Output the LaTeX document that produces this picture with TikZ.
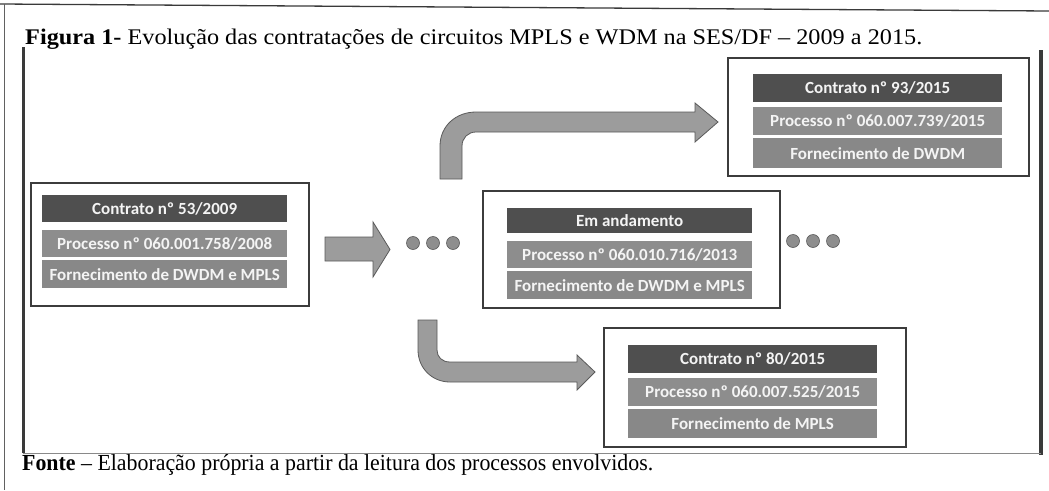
\documentclass[tikz,border=0pt]{standalone}
\usepackage{fontspec}
\usepackage{graphicx}
\setmainfont{Liberation Serif}
\newfontfamily\bandfont{Carlito}
\definecolor{darkband}{HTML}{4F4F4F}
\definecolor{midband}{HTML}{8D8D8D}
\definecolor{lowband}{HTML}{888888}
\definecolor{boxline}{HTML}{3C3C3C}
\definecolor{arrowfill}{HTML}{9C9C9C}
\definecolor{arrowline}{HTML}{5A5A5A}
\definecolor{dotfill}{HTML}{8E8E8E}
\definecolor{frameline}{HTML}{3A3A3A}
\definecolor{bandtext}{HTML}{F4F4F4}
\begin{document}
\begin{tikzpicture}[x=1pt,y=-1pt,
  outerbox/.style={draw=boxline, line width=1.6pt, fill=white, inner sep=0pt, anchor=north west},
  bandbase/.style={inner sep=0pt, anchor=north west, text=bandtext,
    font=\bandfont\bfseries\fontsize{17}{17}\selectfont, minimum height=#1},
  banddark/.style={bandbase=#1, fill=darkband},
  bandmid/.style={bandbase=#1, fill=midband},
  bandlow/.style={bandbase=#1, fill=lowband},
  dotnode/.style={circle, fill=dotfill, draw=arrowline, line width=0.6pt, minimum size=13pt, inner sep=0pt},
  blockarrow/.style={fill=arrowfill, draw=arrowline, line width=0.8pt, line join=miter}
]
\useasboundingbox (0,0) rectangle (1049,490);
\fill[white] (0,0) rectangle (1049,490);

% page / frame lines
\draw[frameline, line width=1.3pt] (0,4) -- (1049,11);
\draw[frameline!80, line width=0.9pt] (4,4) -- (4,490);
\draw[frameline, line width=3pt] (23,47) -- (23,453);
\draw[frameline, line width=4pt] (1041,50) -- (1041,455);
\draw[frameline!60, line width=1pt] (23,453) -- (1041,453);

% title and source
\node[anchor=base west, inner sep=0pt] (title) at (25,44)
  {\resizebox{897pt}{15.5pt}{\fontsize{20}{20}\selectfont\textbf{Figura 1-} Evolução das contratações de circuitos MPLS e WDM na SES/DF – 2009 a 2015.}};
\node[anchor=base west, inner sep=0pt] (fonte) at (22,470)
  {\resizebox{631pt}{16pt}{\fontsize{20}{20}\selectfont\textbf{Fonte} – Elaboração própria a partir da leitura dos processos envolvidos.}};

% box 1
\node[outerbox, minimum width=278pt, minimum height=123pt] (box1) at (30,182) {};
\node[banddark=27pt, minimum width=245pt] (b1a) at (42,195) {Contrato nº 53/2009};
\node[bandmid=27pt, minimum width=245pt] (b1b) at (42,230) {Processo nº 060.001.758/2008};
\node[bandlow=28pt, minimum width=245pt] (b1c) at (42,260) {Fornecimento de DWDM e MPLS};

% middle box
\node[outerbox, minimum width=297pt, minimum height=117pt] (box2) at (482,190) {};
\node[banddark=25pt, minimum width=245pt] (b2a) at (507,208) {Em andamento};
\node[bandmid=27pt, minimum width=245pt] (b2b) at (507,241) {Processo nº 060.010.716/2013};
\node[bandlow=28pt, minimum width=245pt] (b2c) at (507,271) {Fornecimento de DWDM e MPLS};

% top-right box
\node[outerbox, minimum width=301pt, minimum height=118pt] (box3) at (727,57) {};
\node[banddark=28pt, minimum width=249pt] (b3a) at (753,74) {Contrato nº 93/2015};
\node[bandmid=28pt, minimum width=249pt] (b3b) at (753,107) {Processo nº 060.007.739/2015};
\node[bandlow=30pt, minimum width=249pt] (b3c) at (753,138) {Fornecimento de DWDM};

% bottom-right box
\node[outerbox, minimum width=302pt, minimum height=119pt] (box4) at (603,327) {};
\node[banddark=28pt, minimum width=249pt] (b4a) at (628,345) {Contrato nº 80/2015};
\node[bandmid=28pt, minimum width=249pt] (b4b) at (628,378) {Processo nº 060.007.525/2015};
\node[bandlow=29pt, minimum width=249pt] (b4c) at (628,409) {Fornecimento de MPLS};

% dots
\node[dotnode] (d1) at (413,243) {};
\node[dotnode] (d2) at (433,243) {};
\node[dotnode] (d3) at (453,243) {};
\node[dotnode] (d4) at (793,241) {};
\node[dotnode] (d5) at (813,241) {};
\node[dotnode] (d6) at (833,241) {};

% straight block arrow
\draw[blockarrow] (325,237) -- (373,237) -- (373,222) -- (390,249.5) -- (373,277)
  -- (373,261) -- (325,261) -- cycle;

% upper bent arrow
\draw[blockarrow] (440,179) -- (440,146) .. controls (440,126) and (456,112) .. (476,112)
  -- (695,112) -- (695,103) -- (718,122) -- (695,142) -- (695,132) -- (476,132)
  .. controls (468,132) and (462,138) .. (462,146) -- (462,179) -- cycle;

% lower bent arrow
\draw[blockarrow] (418,320) -- (418,350) .. controls (418,368) and (432,382) .. (450,382)
  -- (577,382) -- (577,390) -- (595,372) -- (577,355) -- (577,362) -- (450,362)
  .. controls (442,362) and (437,357) .. (437,350) -- (437,320) -- cycle;
\end{tikzpicture}
\end{document}
